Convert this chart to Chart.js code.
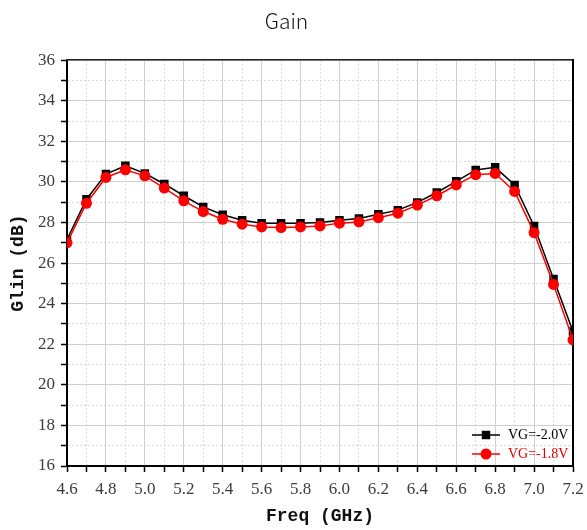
<!DOCTYPE html>
<html>
<head>
<meta charset="utf-8">
<script src="https://cdn.jsdelivr.net/npm/chart.js@4"></script>
<style>
  html, body { margin: 0; padding: 0; background: #fff; }
  #wrap { width: 587px; height: 530px; }
</style>
</head>
<body>
<div id="wrap"><canvas id="gain-chart" width="587" height="530"></canvas></div>
<script>
// Frequency points (GHz)
const freq = [4.6, 4.7, 4.8, 4.9, 5.0, 5.1, 5.2, 5.3, 5.4, 5.5, 5.6, 5.7, 5.8, 5.9,
    6.0, 6.1, 6.2, 6.3, 6.4, 6.5, 6.6, 6.7, 6.8, 6.9, 7.0, 7.1, 7.2];

// Gain (dB) per gate voltage
const gainVg20 = [27.17, 29.15, 30.39, 30.8, 30.42, 29.9, 29.32, 28.77, 28.38, 28.11, 27.97, 27.97, 27.97, 28.0,
    28.11, 28.2, 28.41, 28.61, 28.99, 29.48, 30.03, 30.59, 30.72, 29.85, 27.83, 25.22, 22.63];
const gainVg18 = [27.0, 28.95, 30.22, 30.6, 30.3, 29.7, 29.07, 28.54, 28.16, 27.92, 27.78, 27.75, 27.78, 27.83,
    27.97, 28.03, 28.24, 28.46, 28.86, 29.32, 29.85, 30.36, 30.42, 29.53, 27.5, 24.95, 22.22];

const seriesLabels = ["VG=-2.0V", "VG=-1.8V"];

// Axis limits
const xMin = 4.6, xMax = 7.2, xStep = 0.1;
const yMin = 16, yMax = 36, yStep = 1;

const majorGrid = "#cfcfcf";
const minorGrid = "#d9d9d9";
const tickFont = { family: "'Liberation Serif', serif", size: 17 };
const axisTitleFont = { family: "'Liberation Mono', monospace", size: 18, weight: "bold" };

function toPoints(values) {
    return freq.map((f, i) => ({ x: f, y: values[i] }));
}

// Major ticks every 0.2 GHz / 2 dB, dotted minor grid in between
function isMajorX(v) { return Math.round(v * 10) % 2 === 0; }
function isMajorY(v) { return Math.round(v) % 2 === 0; }

// Legend drawn inside the plot, lower right corner
const innerLegend = {
    id: "innerLegend",
    afterDatasetsDraw(chart) {
        const ctx = chart.ctx;
        const area = chart.chartArea;
        const sets = [chart.data.datasets[0], chart.data.datasets[1]];
        ctx.save();
        sets.forEach((ds, i) => {
            const y = area.bottom - 31 + i * 19;
            const x0 = area.right - 101;
            ctx.strokeStyle = ds.borderColor;
            ctx.fillStyle = ds.backgroundColor;
            ctx.lineWidth = 1.5;
            ctx.beginPath();
            ctx.moveTo(x0, y);
            ctx.lineTo(x0 + 28, y);
            ctx.stroke();
            Chart.helpers.drawPoint(ctx, {
                pointStyle: ds.pointStyle,
                radius: ds.pointRadius,
                borderWidth: 0,
                rotation: 0,
            }, x0 + 14, y);
            ctx.fillStyle = ds.labelColor;
            ctx.font = "14px 'Liberation Serif', serif";
            ctx.textBaseline = "middle";
            ctx.textAlign = "left";
            ctx.fillText(ds.label, x0 + 36, y);
        });
        ctx.restore();
    },
};

function initializeChart() {
    const ctx = document.getElementById("gain-chart").getContext("2d");

    new Chart(ctx, {
        type: "line",
        data: {
            datasets: [
                {
                    label: seriesLabels[0],
                    data: toPoints(gainVg20),
                    borderColor: "#000000",
                    backgroundColor: "#000000",
                    labelColor: "#000000",
                    borderWidth: 1.5,
                    pointStyle: "rect",
                    pointRadius: 6,
                    pointBorderWidth: 0,
                    order: 1,
                },
                {
                    label: seriesLabels[1],
                    data: toPoints(gainVg18),
                    borderColor: "#ff0000",
                    backgroundColor: "#ff0000",
                    labelColor: "#e00000",
                    borderWidth: 1.5,
                    pointStyle: "circle",
                    pointRadius: 5.5,
                    pointBorderWidth: 0,
                    order: 0,
                },
            ],
        },
        options: {
            responsive: false,
            animation: false,
            layout: { padding: { left: 0, right: 14, top: 0, bottom: 0 } },
            plugins: {
                legend: { display: false },
                tooltip: { enabled: false },
                title: {
                    display: true,
                    text: "Gain",
                    color: "#111",
                    font: { family: "'Noto Sans CJK KR', 'Noto Sans', sans-serif", size: 21, weight: 300 },
                    padding: { top: 8, bottom: 27 },
                },
            },
            scales: {
                x: {
                    type: "linear",
                    min: xMin,
                    max: xMax,
                    afterFit: (scale) => {
                        scale.height = 64;
                        scale.paddingLeft = 0;
                        scale.paddingRight = 0;
                    },
                    ticks: {
                        stepSize: xStep,
                        autoSkip: false,
                        maxRotation: 0,
                        padding: 7,
                        color: "#3c3c3c",
                        font: tickFont,
                        callback: (v) => (isMajorX(v) ? v.toFixed(1) : ""),
                    },
                    grid: {
                        color: (c) => (isMajorX(c.tick.value) ? majorGrid : minorGrid),
                        lineWidth: 1,
                        tickColor: "#000",
                        tickLength: 6,
                        tickWidth: 1.5,
                    },
                    border: {
                        display: true,
                        color: "#000",
                        width: 2,
                        dash: (c) => (c.tick && !isMajorX(c.tick.value) ? [2, 2] : []),
                    },
                    title: {
                        display: true,
                        text: "Freq (GHz)",
                        color: "#111",
                        font: axisTitleFont,
                        padding: { top: 0, bottom: 3 },
                    },
                },
                y: {
                    type: "linear",
                    min: yMin,
                    max: yMax,
                    afterFit: (scale) => { scale.width = 67; },
                    ticks: {
                        stepSize: yStep,
                        autoSkip: false,
                        padding: 6,
                        color: "#3c3c3c",
                        font: tickFont,
                        callback: (v) => (isMajorY(v) ? String(v) : ""),
                    },
                    grid: {
                        color: (c) => (isMajorY(c.tick.value) ? majorGrid : minorGrid),
                        lineWidth: 1,
                        tickColor: "#000",
                        tickLength: 6,
                        tickWidth: 1.5,
                    },
                    border: {
                        display: true,
                        color: "#000",
                        width: 2,
                        dash: (c) => (c.tick && !isMajorY(c.tick.value) ? [2, 2] : []),
                    },
                    title: {
                        display: true,
                        text: "Glin (dB)",
                        color: "#111",
                        font: axisTitleFont,
                        padding: { top: 8, bottom: 0 },
                    },
                },
                // Frame on the top and right sides
                xTop: {
                    type: "linear",
                    position: "top",
                    min: xMin,
                    max: xMax,
                    afterFit: (scale) => {
                        scale.height = 0;
                        scale.paddingLeft = 0;
                        scale.paddingRight = 0;
                    },
                    ticks: { display: false },
                    grid: { drawOnChartArea: false, drawTicks: false },
                    border: { display: true, color: "#222", width: 1.5 },
                },
                yRight: {
                    type: "linear",
                    position: "right",
                    min: yMin,
                    max: yMax,
                    afterFit: (scale) => { scale.width = 0; },
                    ticks: { display: false },
                    grid: { drawOnChartArea: false, drawTicks: false },
                    border: { display: true, color: "#000", width: 2 },
                },
            },
        },
        plugins: [innerLegend],
    });
}

initializeChart();
</script>
</body>
</html>
